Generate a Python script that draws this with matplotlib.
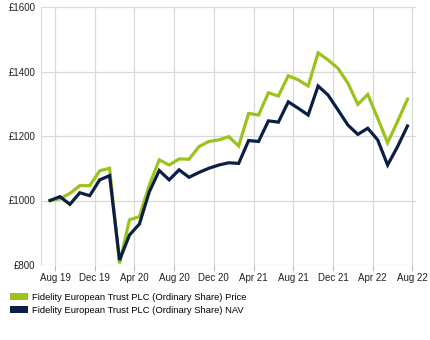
import matplotlib
matplotlib.use("Agg")
import matplotlib.pyplot as plt
from matplotlib.patches import Patch

plt.rcParams['font.family'] = ['Liberation Sans', 'DejaVu Sans']

price = [1000, 1005, 1022, 1046, 1046, 1092, 1100, 805, 940, 950, 1048, 1126, 1110,
         1129, 1128, 1167, 1183, 1188, 1198, 1169, 1270, 1265, 1334, 1324, 1387,
         1374, 1355, 1458, 1436, 1410, 1364, 1298, 1329, 1255, 1179, 1245, 1314]
nav = [1000, 1012, 988, 1024, 1015, 1064, 1077, 815, 893, 927, 1027, 1093, 1064,
       1095, 1072, 1087, 1100, 1110, 1117, 1115, 1186, 1183, 1247, 1243, 1306,
       1286, 1265, 1355, 1327, 1281, 1234, 1205, 1224, 1188, 1110, 1167, 1231]
tick_labels = ["Aug 19", "Dec 19", "Apr 20", "Aug 20", "Dec 20", "Apr 21",
               "Aug 21", "Dec 21", "Apr 22", "Aug 22"]
y_ticks = [800, 1000, 1200, 1400, 1600]
series_names = ["Fidelity European Trust PLC (Ordinary Share) Price",
                "Fidelity European Trust PLC (Ordinary Share) NAV"]

green = "#9BC31C"
navy = "#0B1F45"

fig = plt.figure(figsize=(4.3, 3.4), dpi=100)
ax = fig.add_axes([41/430, 1-265/340, (416-41)/430, (265-7)/340])

x = list(range(len(price)))
ax.plot(x, price, color=green, lw=2.3, solid_joinstyle='miter', zorder=3)
ax.plot(x, nav, color=navy, lw=2.3, solid_joinstyle='miter', zorder=4)

ax.set_ylim(800, 1600)
ax.set_xlim(-0.91, 36.86)
ax.set_yticks(y_ticks)
ax.set_yticklabels([f"£{v}" for v in y_ticks])
xt = [0.5 + 4*k for k in range(len(tick_labels))]
ax.set_xticks(xt)
ax.set_xticklabels(tick_labels)
ax.grid(True, color="#d9d9d9", lw=0.9)
ax.set_axisbelow(True)
for s in ['top', 'right', 'bottom']:
    ax.spines[s].set_visible(False)
ax.spines['left'].set_color("#d9d9d9")
ax.tick_params(axis='y', length=0, labelsize=7, pad=4, colors='#222222')
ax.tick_params(axis='x', length=4, width=0.8, labelsize=7, pad=2, colors='#222222')
ax.tick_params(axis='x', color="#bbbbbb")

handles = [Patch(facecolor=green, edgecolor='none'), Patch(facecolor=navy, edgecolor='none')]
fig.legend(handles, series_names, loc='upper left', bbox_to_anchor=(10/430, 1-293/340),
           frameon=False, fontsize=6.75, handlelength=1.95, handleheight=0.75,
           handletextpad=0.45, labelspacing=0.38, borderaxespad=0, borderpad=0)

fig.savefig("out.png", dpi=100)
